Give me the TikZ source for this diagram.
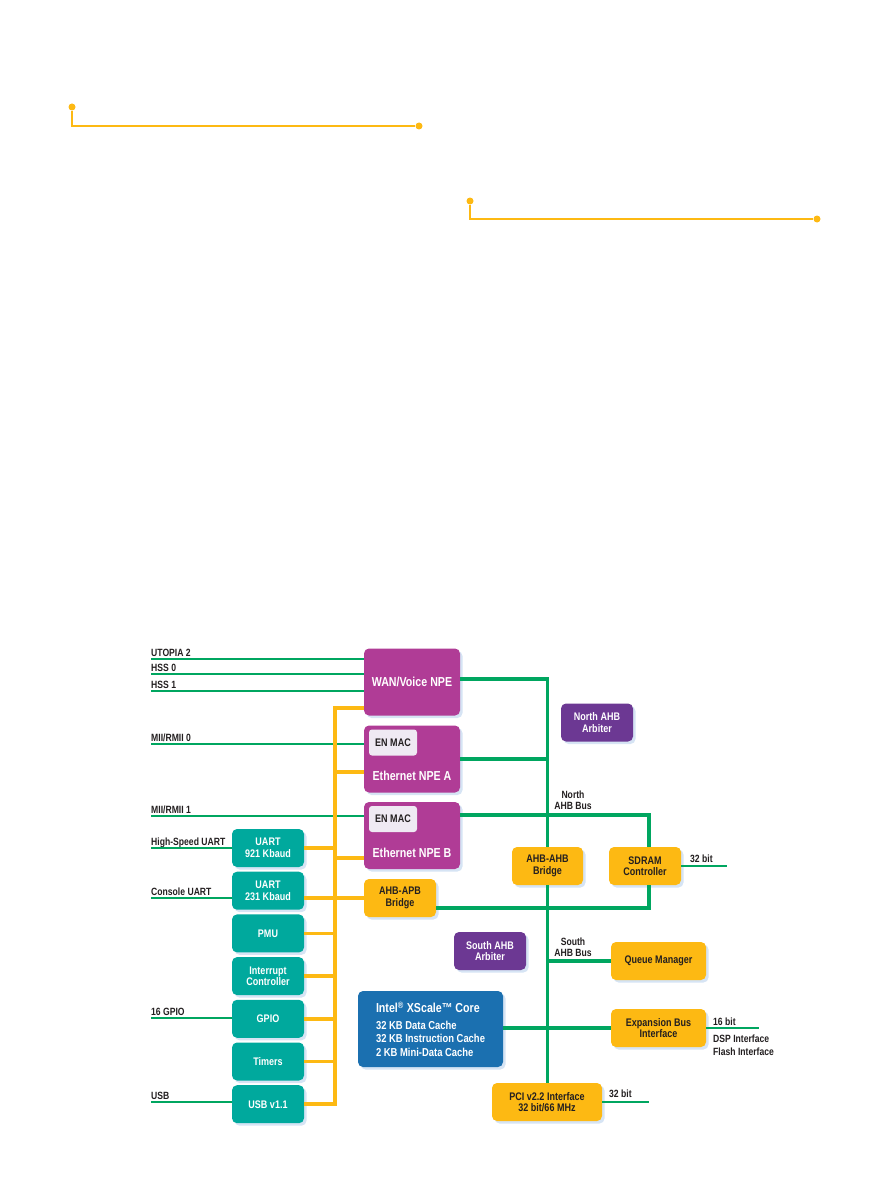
\documentclass[tikz,border=0pt]{standalone}
\usepackage{fontspec}
\setmainfont{Liberation Sans}[FakeStretch=0.82]
\usepackage{tikz}
\usetikzlibrary{positioning,shadows}
\definecolor{IxpMagenta}{HTML}{B03C96}
\definecolor{IxpViolet}{HTML}{6C3893}
\definecolor{IxpTeal}{HTML}{00A99D}
\definecolor{IxpYellow}{HTML}{FDB913}
\definecolor{IxpBlue}{HTML}{1B70B0}
\definecolor{IxpGreen}{HTML}{00A660}
\definecolor{IxpMac}{HTML}{EFEAF3}
\definecolor{IxpShadow}{HTML}{D6E4F4}
\definecolor{IxpInk}{HTML}{231F20}

\begin{document}
\begin{tikzpicture}[x=1pt, y=-1pt, node distance=4.3pt,
    every node/.style={font=\fontsize{11}{11.5}\selectfont\bfseries, inner sep=2pt},
    shd/.style={drop shadow={shadow xshift=2.5pt, shadow yshift=-2.5pt, fill=IxpShadow, opacity=1}},
    npe/.style={fill=IxpMagenta, rounded corners=5pt, minimum width=96pt, minimum height=67pt, text=white, font=\fontsize{13}{15}\selectfont\bfseries, shd},
    npename/.style={text=white, font=\fontsize{13}{15}\selectfont\bfseries},
    mac/.style={fill=IxpMac, rounded corners=3pt, minimum width=48pt, minimum height=26pt, text=IxpInk},
    unit/.style={fill=IxpTeal, rounded corners=5pt, minimum width=72pt, minimum height=38pt, text=white, align=center, shd},
    ybox/.style={fill=IxpYellow, rounded corners=5pt, minimum width=72pt, minimum height=38pt, text=IxpInk, align=center, shd},
    arb/.style={fill=IxpViolet, rounded corners=5pt, minimum width=72pt, minimum height=38pt, text=white, align=center, shd},
    lbl/.style={anchor=base west, inner sep=0pt, text=IxpInk, font=\fontsize{10.5}{11}\selectfont\bfseries},
    inlbl/.style={lbl, yshift=3pt},
    gin/.style={IxpGreen, line width=2pt},
    gbus/.style={IxpGreen, line width=3.4pt},
    ybus/.style={IxpYellow, line width=3.6pt},
    dot/.style={circle, fill=IxpYellow, inner sep=0pt, minimum size=7pt},
    deco/.style={IxpYellow, line width=2pt}]
    \useasboundingbox (0,0) rectangle (892,1185);

    % title rules
    \node[dot] (pinA) at (72,107) {};
    \node[dot] (pinB) at (419,126) {};
    \node[dot] (pinC) at (470,201) {};
    \node[dot] (pinD) at (817,219) {};
    \draw[deco] (pinA) |- (pinB); \draw[deco] (pinC) |- (pinD);

    % network processing engines
    \node[npe] (wan) at (412,682) {WAN/Voice NPE};
    \node[npe] (npeA) at (412,759) {};
    \node[npe] (npeB) at (412,835.5) {};
    \node[mac, anchor=north west] (macA) at ([shift={(5pt,-4pt)}]npeA.north west) {EN MAC};
    \node[mac, anchor=north west] (macB) at ([shift={(5pt,-4pt)}]npeB.north west) {EN MAC};
    \node[npename] (npeAname) at ([yshift=-17pt]npeA.center) {Ethernet NPE A};
    \node[npename] (npeBname) at ([yshift=-17.5pt]npeB.center) {Ethernet NPE B};

    % peripherals
    \node[unit] (uartA) at (268,848) {UART\\921 Kbaud};
    \node[unit, below=of uartA] (uartB) {UART\\231 Kbaud};
    \node[unit, below=of uartB] (pmu) {PMU};
    \node[unit, below=of pmu] (intc) {Interrupt\\Controller};
    \node[unit, below=of intc] (gpio) {GPIO};
    \node[unit, below=of gpio] (timers) {Timers};
    \node[unit, below=of timers] (usb) {USB v1.1};

    % bridges and controllers
    \node[ybox] (apb) at (400,898) {AHB-APB\\Bridge};
    \node[ybox, minimum width=71pt] (ahbahb) at (547.5,866) {AHB-AHB\\Bridge};
    \node[ybox] (sdram) at (645,866) {SDRAM\\Controller};
    \node[ybox, minimum width=95pt] (qmgr) at (658.5,961) {Queue Manager};
    \node[ybox, minimum width=95pt] (expbus) at (658.5,1028) {Expansion Bus\\Interface};
    \node[ybox, minimum width=110pt] (pci) at (547,1102) {PCI v2.2 Interface\\32 bit/66 MHz};
    \node[arb] (narb) at (597,722.5) {North AHB\\Arbiter};
    \node[arb] (sarb) at (490,951) {South AHB\\Arbiter};
    \node[fill=IxpBlue, rounded corners=5pt, minimum width=145pt, minimum height=76pt, align=left, text=white, font=\fontsize{11.5}{13.5}\selectfont\bfseries, shd] (xscale) at (430.5,1029)
      {{\fontsize{13}{15}\selectfont Intel\textsuperscript{\textregistered} XScale\texttrademark{} Core}\\[3pt]32 KB Data Cache\\32 KB Instruction Cache\\2 KB Mini-Data Cache};

    % external interfaces
    \coordinate (utopia) at (151,659);
    \coordinate (hss0) at (151,674);
    \coordinate (hss1) at (151,691);
    \coordinate (mii0) at (151,744);
    \coordinate (mii1) at (151,816);
    \coordinate (hsuart) at (151,848);
    \coordinate (cuart) at (151,898);
    \coordinate (gpioin) at (151,1018);
    \coordinate (usbin) at (151,1102);
    \node[inlbl] (utopiatxt) at (utopia) {UTOPIA 2};
    \node[inlbl] (hss0txt) at (hss0) {HSS 0};
    \node[inlbl] (hss1txt) at (hss1) {HSS 1};
    \node[inlbl] (mii0txt) at (mii0) {MII/RMII 0};
    \node[inlbl] (mii1txt) at (mii1) {MII/RMII 1};
    \node[inlbl] (hsuarttxt) at (hsuart) {High-Speed UART};
    \node[inlbl] (cuarttxt) at (cuart) {Console UART};
    \node[inlbl] (gpiotxt) at (gpioin) {16 GPIO};
    \node[inlbl] (usbtxt) at (usbin) {USB};
    \draw[gin] (utopia) -- (utopia -| wan.west); \draw[gin] (hss0) -- (hss0 -| wan.west); \draw[gin] (hss1) -- (hss1 -| wan.west);
    \draw[gin] (mii0) -- (mii0 -| npeA.west); \draw[gin] (mii1) -- (mii1 -| npeB.west);
    \draw[gin] (hsuart) -- (hsuart -| uartA.west); \draw[gin] (cuart) -- (cuart -| uartB.west);
    \draw[gin] (gpioin) -- (gpioin -| gpio.west); \draw[gin] (usbin) -- (usbin -| usb.west);

    % peripheral bus
    \coordinate (ytop) at (335,708);
    \coordinate (npeAin) at ([yshift=-13pt]npeA.west);
    \coordinate (npeBin) at ([yshift=-22.5pt]npeB.west);
    \draw[ybus] (ytop -| wan.west) -- (ytop) |- (usb.east);
    \draw[ybus] (npeAin) -- (npeAin -| ytop); \draw[ybus] (npeBin) -- (npeBin -| ytop);
    \draw[ybus] (uartA.east) -- (uartA.east -| ytop); \draw[ybus] (uartB.east |- apb.west) -- (apb.west);
    \draw[ybus] (pmu.east) -- (pmu.east -| ytop); \draw[ybus] (intc.east) -- (intc.east -| ytop);
    \draw[ybus] (gpio.east) -- (gpio.east -| ytop); \draw[ybus] (timers.east) -- (timers.east -| ytop);

    % north and south AHB
    \coordinate (wanout) at ([yshift=3pt]wan.east);
    \coordinate (npeBout) at ([yshift=20.5pt]npeB.east);
    \coordinate (apbout) at ([yshift=-10pt]apb.east);
    \coordinate (sdramtop) at ([xshift=4pt]sdram.north);
    \coordinate (sdrambot) at ([xshift=4pt]sdram.south);
    \draw[gbus] (wanout) -| (ahbahb.north);
    \draw[gbus] (npeA.east) -- (npeA.east -| ahbahb.north);
    \draw[gbus] (npeBout) -| (sdramtop);
    \draw[gbus] (apbout) -| (sdrambot);
    \draw[gbus] (ahbahb.south) -- (ahbahb.south |- pci.north);
    \draw[gbus] (qmgr.west) -- (qmgr.west -| ahbahb.south);
    \draw[gbus] (xscale.east |- expbus.west) -- (expbus.west);
    \node[lbl, anchor=center, align=center] (nbus) at (573,800) {North\\AHB Bus};
    \node[lbl, anchor=center, align=center] (sbus) at (573,947) {South\\AHB Bus};

    % memory and expansion ports
    \coordinate (sdramend) at (727,866);
    \coordinate (expend) at (759,1028);
    \coordinate (pciend) at (649,1102);
    \draw[gin] (sdram.east) -- (sdramend);
    \draw[gin] (expbus.east) -- (expend);
    \draw[gin] (pci.east) -- (pciend);
    \node[lbl] (sdrambits) at (690,862) {32 bit};
    \node[lbl] (expbits) at (713,1025) {16 bit};
    \node[lbl, anchor=north west, align=left, font=\fontsize{10.5}{13}\selectfont\bfseries] (expif) at (713,1035) {DSP Interface\\Flash Interface};
    \node[lbl] (pcibits) at (609,1097) {32 bit};
\end{tikzpicture}
\end{document}
